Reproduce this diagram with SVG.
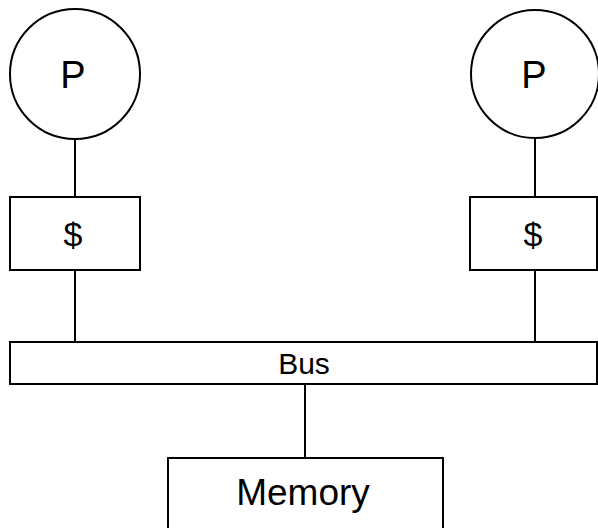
<svg xmlns="http://www.w3.org/2000/svg" width="598" height="528" viewBox="0 0 598 528">
<style>
.s{fill:#fff;stroke:#000;stroke-width:2}
.c{stroke:#000;stroke-width:2;fill:none}
text{font-family:"Liberation Sans",Arial,sans-serif;fill:#000;text-anchor:middle}
</style>
<rect width="598" height="528" fill="#fff"/>
<g id="connectors">
<line class="c" x1="75" y1="139" x2="75" y2="197"/>
<line class="c" x1="75" y1="270" x2="75" y2="342"/>
<line class="c" x1="535" y1="139" x2="535" y2="197"/>
<line class="c" x1="535" y1="270" x2="535" y2="342"/>
<line class="c" x1="305" y1="384" x2="305" y2="458"/>
</g>
<g id="p1"><circle class="s" cx="75" cy="74" r="65"/><text x="73" y="88" font-size="38">P</text></g>
<g id="p2"><circle class="s" cx="535" cy="74" r="64"/><text x="534" y="88" font-size="38">P</text></g>
<g id="cache1"><rect class="s" x="10" y="197" width="130" height="73"/><text x="73" y="246" font-size="34">$</text></g>
<g id="cache2"><rect class="s" x="470" y="197" width="127" height="73"/><text x="533" y="246" font-size="34">$</text></g>
<g id="bus"><rect class="s" x="10" y="342" width="587" height="42"/><text x="304" y="374" font-size="30">Bus</text></g>
<g id="memory"><rect class="s" x="168" y="458" width="275" height="80"/><text x="303" y="505" font-size="37">Memory</text></g>
</svg>
